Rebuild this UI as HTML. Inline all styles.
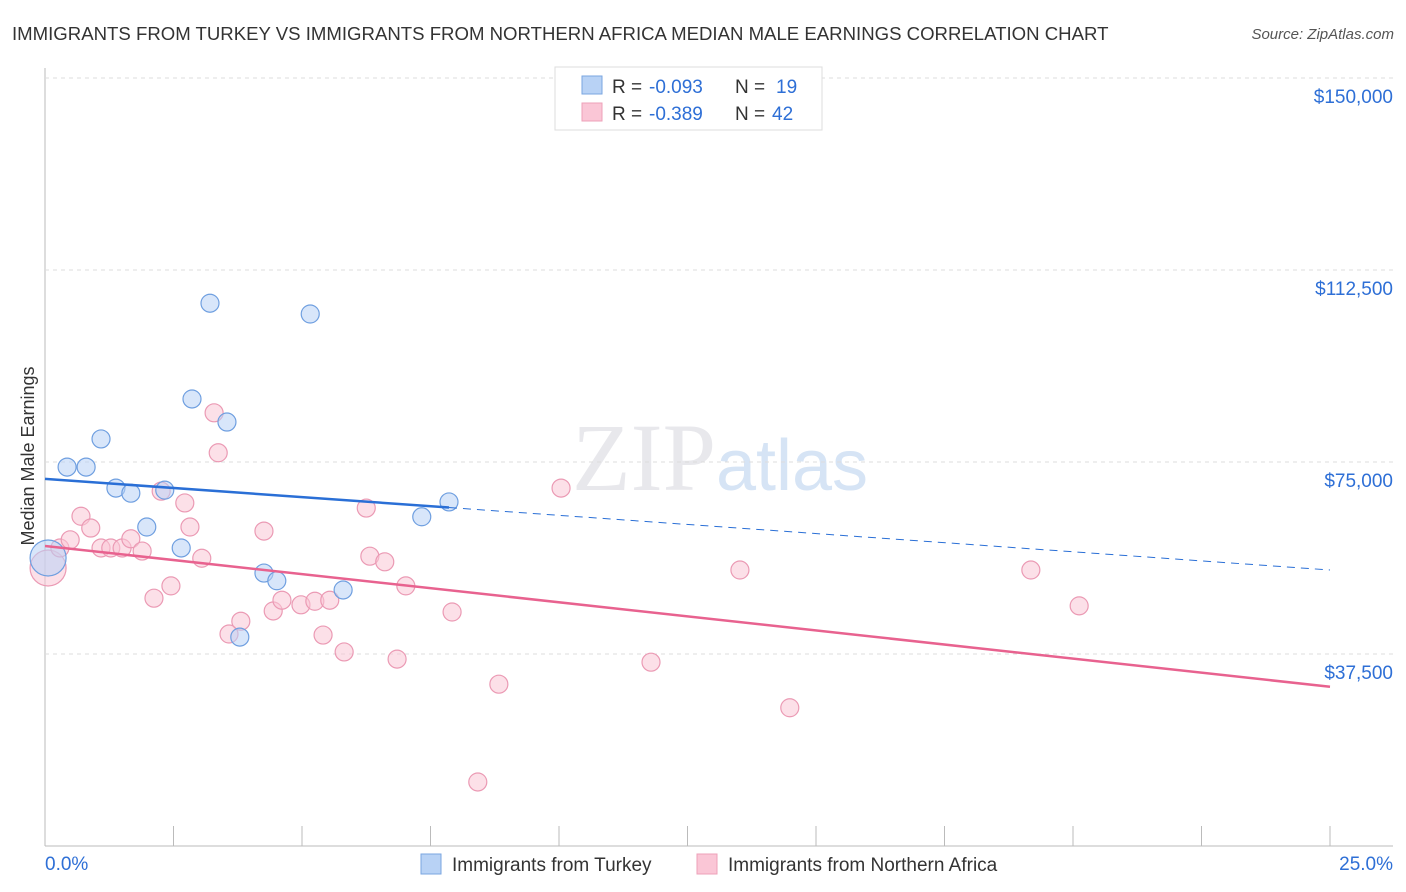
<!DOCTYPE html>
<html><head><meta charset="utf-8"><style>
body{margin:0;background:#fff;font-family:"Liberation Sans",sans-serif}
</style></head><body>
<svg id="c" width="1406" height="892" xmlns="http://www.w3.org/2000/svg" style="display:block">
<text x="12" y="40" font-size="18.6" fill="#333">IMMIGRANTS FROM TURKEY VS IMMIGRANTS FROM NORTHERN AFRICA MEDIAN MALE EARNINGS CORRELATION CHART</text>
<text x="1394" y="39" font-size="15" fill="#555" font-style="italic" text-anchor="end">Source: ZipAtlas.com</text>
<text x="720" y="490" font-size="96" text-anchor="middle" fill="#e8e8ec" font-family="Liberation Serif">ZIP<tspan fill="#d6e4f5" font-family="Liberation Sans" font-size="72">atlas</tspan></text>
<text transform="translate(34,456) rotate(-90)" font-size="18" fill="#333" text-anchor="middle">Median Male Earnings</text>
<g id="grid"></g><g id="marks"></g>
<g>
<rect x="555" y="67" width="267" height="63" fill="#fff" stroke="#ddd"/>
<rect x="582" y="76" width="20" height="18" fill="#b8d2f5" stroke="#7aa6e0"/>
<rect x="582" y="103" width="20" height="18" fill="#fac6d6" stroke="#eea0b8"/>
<text x="612" y="93" font-size="19" fill="#333">R =</text>
<text x="649" y="93" font-size="19" fill="#2e6fd6">-0.093</text>
<text x="735" y="93" font-size="19" fill="#333">N =</text>
<text x="776" y="93" font-size="19" fill="#2e6fd6">19</text>
<text x="612" y="120" font-size="19" fill="#333">R =</text>
<text x="649" y="120" font-size="19" fill="#2e6fd6">-0.389</text>
<text x="735" y="120" font-size="19" fill="#333">N =</text>
<text x="772" y="120" font-size="19" fill="#2e6fd6">42</text>
</g>
<g>
<rect x="421" y="854" width="20" height="20" fill="#b8d2f5" stroke="#7aa6e0"/>
<text x="452" y="871" font-size="19" fill="#333">Immigrants from Turkey</text>
<rect x="697" y="854" width="20" height="20" fill="#fac6d6" stroke="#eea0b8"/>
<text x="728" y="871" font-size="19" fill="#333">Immigrants from Northern Africa</text>
</g>
</svg>
<script>
const yTicks=[37500,75000,112500,150000];
const yTickLabels=["$37,500","$75,000","$112,500","$150,000"];
const xTickLabels=["0.0%","25.0%"];
const turkeyX=[0.06,0.43,0.80,1.09,1.38,1.67,1.98,2.33,2.65,2.86,3.21,3.54,4.26,4.51,5.16,5.80,3.79,7.33,7.86];
const turkeyY=[56250,74000,74000,79500,69900,68900,62300,69500,58200,87300,106000,82800,53300,51800,103900,50000,40800,64300,67200];
const nafX=[0.06,0.29,0.49,0.70,0.89,1.09,1.28,1.50,1.67,1.89,2.12,2.45,2.26,2.72,2.82,3.05,3.29,3.37,3.58,3.81,4.26,4.44,4.61,4.98,5.25,5.54,5.41,5.82,6.25,6.32,6.61,6.85,7.02,7.92,8.83,8.42,10.04,11.79,13.52,14.49,19.18,20.12];
const nafY=[54300,58200,59800,64400,62100,58200,58200,58200,60000,57600,48400,50800,69300,67000,62300,56200,84600,76800,41400,43900,61500,45900,48000,47100,47800,48000,41200,37900,66000,56600,55500,36500,50800,45700,31600,12500,69900,35900,53900,27000,53900,46900];
const turkeyTrend=[71700,53900];
const nafTrend=[58600,31100];
const NS="http://www.w3.org/2000/svg";
const X=v=>45+v*51.4, Y=v=>846-v/195.3;
function mk(t,a,p){const e=document.createElementNS(NS,t);for(const k in a)e.setAttribute(k,a[k]);p.appendChild(e);return e;}
const g=document.getElementById('grid'), m=document.getElementById('marks');
mk('line',{x1:45,y1:68,x2:45,y2:846,stroke:'#bbb'},g);
mk('line',{x1:45,y1:846,x2:1393,y2:846,stroke:'#bbb'},g);
yTicks.forEach(v=>{mk('line',{x1:45,y1:Y(v),x2:1393,y2:Y(v),stroke:'#ddd','stroke-dasharray':'4,4'},g);});
yTicks.forEach((v,i)=>{const t=mk('text',{x:1393,y:Y(v)+25,'font-size':19,fill:'#2e6fd6','text-anchor':'end'},g);t.textContent=yTickLabels[i];

});
for(let i=0;i<=10;i++){mk('line',{x1:X(i*2.5),y1:826,x2:X(i*2.5),y2:846,stroke:'#bbb'},g);}
xTickLabels.forEach((s,i)=>{const t=mk('text',{x:i?1393:45,y:870,'font-size':19,fill:'#2e6fd6','text-anchor':i?'end':'start'},g);t.textContent=s;

});
function dots(xs,ys,fill,stroke,name){xs.forEach((x,i)=>{const c=mk('circle',{cx:X(x),cy:Y(ys[i]),r:i===0?18:9,fill:fill,'fill-opacity':0.55,stroke:stroke,'stroke-width':1.2},m);

});}
dots(nafX,nafY,'#fac6d6','#eb9ab4','point-northern-africa');
dots(turkeyX,turkeyY,'#b8d2f5','#6f9fe0','point-turkey');
const tl=mk('line',{x1:X(0),y1:Y(turkeyTrend[0]),x2:X(7.86),y2:Y(turkeyTrend[0]+(turkeyTrend[1]-turkeyTrend[0])*7.86/25),stroke:'#2a6fd6','stroke-width':2.5},m);


const td=mk('line',{x1:X(7.86),y1:Y(turkeyTrend[0]+(turkeyTrend[1]-turkeyTrend[0])*7.86/25),x2:X(25),y2:Y(turkeyTrend[1]),stroke:'#2a6fd6','stroke-width':1,'stroke-dasharray':'8,6'},m);


const nl=mk('line',{x1:X(0),y1:Y(nafTrend[0]),x2:X(25),y2:Y(nafTrend[1]),stroke:'#e8628f','stroke-width':2.5},m);


</script>
</body></html>
